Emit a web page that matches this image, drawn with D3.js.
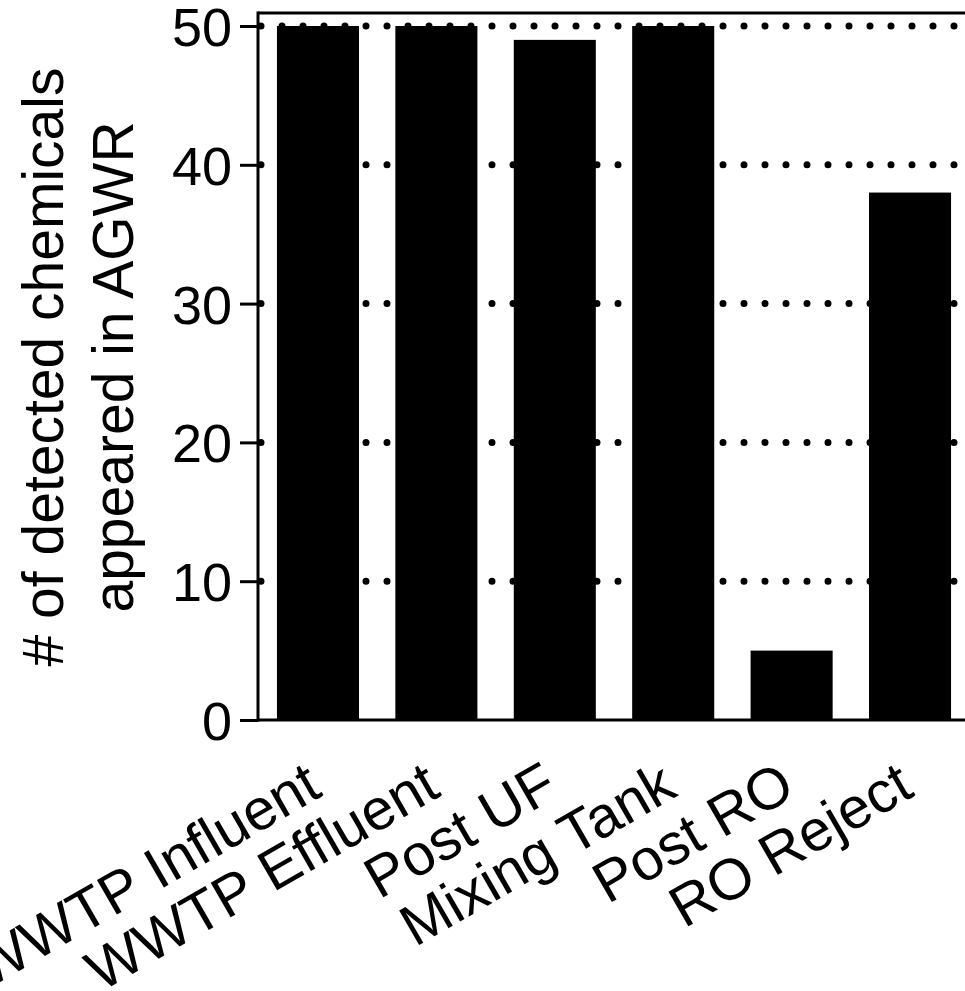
<!DOCTYPE html>
<html>
<head>
<meta charset="utf-8">
<script src="https://cdn.jsdelivr.net/npm/d3@7"></script>
<style>
  body { margin: 0; background: #fff; }
  svg { display: block; font-family: Arial, "Liberation Sans", Helvetica, sans-serif; }
  .y.axis text { font-size: 54px; fill: #000; }
  .y.axis path, .y.axis line { stroke: #000; stroke-width: 3px; }
  .xlabel { font-size: 58px; fill: #000; }
  .ylabel { font-size: 57px; fill: #000; }
</style>
</head>
<body>
<svg width="965" height="991"></svg>
<script>
// **** data ****
const categories = ['WWTP Influent', 'WWTP Effluent', 'Post UF', 'Mixing Tank', 'Post RO', 'RO Reject'];
const counts = [50, 50, 49, 50, 5, 38];
const yTicks = [0, 10, 20, 30, 40, 50];
const gridTicks = [10, 20, 30, 40, 50];
const yLabelLines = ['# of detected chemicals', 'appeared in AGWR'];

// **** scales ****
var svg = d3.select('svg');

var plotLeft = 258, plotRight = 970, plotTop = 13, plotBottom = 720;

var yScale = d3.scaleLinear()
    .domain([0, 50]).range([plotBottom, 26]);

var xScale = d3.scaleBand()
    .domain(categories)
    .range([plotLeft, plotRight])
    .paddingInner(0.307)
    .paddingOuter(0.16);

// dotted grid (behind the bars)
svg.append('g').attr('class', 'grid')
    .selectAll('line')
    .data(gridTicks)
    .enter()
    .append('line')
    .attr('x1', plotLeft + 3)
    .attr('x2', plotRight)
    .attr('y1', d => yScale(d))
    .attr('y2', d => yScale(d))
    .style('stroke', '#000')
    .style('stroke-width', '7px')
    .style('stroke-linecap', 'round')
    .style('stroke-dasharray', '0,21');

// bars
svg.append('g').attr('class', 'bars')
    .selectAll('rect')
    .data(counts)
    .enter()
    .append('rect')
    .attr('x', (d, i) => xScale(categories[i]))
    .attr('width', xScale.bandwidth())
    .attr('y', d => yScale(d))
    .attr('height', d => plotBottom - yScale(d))
    .style('fill', '#000');

// frame top + x axis line
svg.append('line')
    .attr('x1', plotLeft).attr('x2', plotRight)
    .attr('y1', plotTop).attr('y2', plotTop)
    .style('stroke', '#000').style('stroke-width', '3px');

svg.append('line')
    .attr('x1', plotLeft).attr('x2', plotRight)
    .attr('y1', plotBottom).attr('y2', plotBottom)
    .style('stroke', '#000').style('stroke-width', '3px');

// y axis
var yAxis = svg.append('g').attr('class', 'y axis')
    .attr('transform', `translate(${plotLeft},0)`)
    .call(d3.axisLeft(yScale).tickValues(yTicks).tickSize(18).tickPadding(8).tickSizeOuter(0));
yAxis.select('.domain').remove();
yAxis.append('line')
    .attr('x1', 0).attr('x2', 0)
    .attr('y1', plotTop - 1.5).attr('y2', plotBottom + 1.5)
    .style('stroke', '#000').style('stroke-width', '3px');
yAxis.selectAll('text').attr('dy', '0.36em');

// x labels
svg.append('g').attr('class', 'x labels')
    .selectAll('text')
    .data(categories)
    .enter()
    .append('text')
    .attr('class', 'xlabel')
    .attr('text-anchor', 'end')
    .attr('transform', d => `translate(${xScale(d) + xScale.bandwidth() / 2 + 6},795) rotate(-30)`)
    .text(d => d);

// y label
svg.append('g').attr('class', 'y label')
    .selectAll('text')
    .data(yLabelLines)
    .enter()
    .append('text')
    .attr('class', 'ylabel')
    .attr('text-anchor', 'middle')
    .attr('transform', (d, i) => `translate(${63 + i * 70},367) rotate(-90)`)
    .text(d => d);
</script>
</body>
</html>
